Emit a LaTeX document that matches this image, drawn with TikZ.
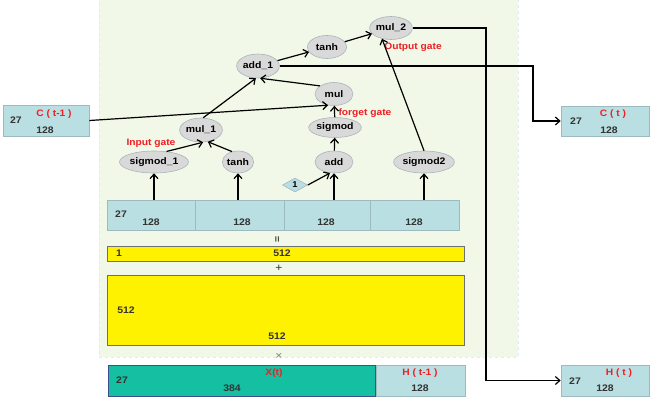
\documentclass[tikz,border=0pt]{standalone}
\usepackage{fontspec}
\setmainfont[FakeStretch=1.1]{Liberation Sans}
\usetikzlibrary{shapes.geometric,arrows.meta}
\definecolor{bgc}{HTML}{F1F8E8}
\definecolor{bgb}{HTML}{DCEEF3}
\definecolor{opf}{HTML}{D9D9D9}
\definecolor{opb}{HTML}{A7B5BC}
\definecolor{cellf}{HTML}{BADFE3}
\definecolor{cellb}{HTML}{9DBBBF}
\definecolor{tealc}{HTML}{14BFA2}
\definecolor{tealb}{HTML}{3A4F8C}
\definecolor{yelb}{HTML}{707070}
\definecolor{txt}{HTML}{333333}
\definecolor{redt}{HTML}{F01E23}
\begin{document}
\begin{tikzpicture}[x=1pt,y=-1pt,
  op/.style={ellipse, draw=opb, fill=opf, line width=0.6pt, inner sep=0pt, font=\fontsize{9.5}{10}\selectfont\bfseries, text=black},
  lbl/.style={font=\fontsize{9.5}{10}\selectfont\bfseries, text=txt, inner sep=0pt},
  redlbl/.style={font=\fontsize{9.3}{10}\selectfont\bfseries, text=redt, inner sep=0pt},
  signlbl/.style={font=\fontsize{11}{11}\selectfont, text=txt, inner sep=0pt},
  arr/.style={line width=1.2pt, -{Straight Barb[length=4.5pt,width=8pt,line width=1.2pt]}},
  cell/.style={draw=cellb, fill=cellf, line width=0.6pt, inner sep=0pt},
  yel/.style={draw=yelb, fill=yellow, line width=0.8pt, inner sep=0pt},
]
\useasboundingbox (0,0) rectangle (652,397);
% background
\node[draw=bgb, fill=bgc, dashed, line width=0.8pt, minimum width=419pt, minimum height=358pt, inner sep=0pt] (bg) at (308.5,178) {};

% boxes
\node[cell, minimum width=86pt, minimum height=31pt] (ct1) at (46,120.5) {};
\node[cell, minimum width=88pt, minimum height=30pt] (c1) at (151,215) {};
\node[cell, minimum width=89pt, minimum height=30pt] (c2) at (239.5,215) {};
\node[cell, minimum width=86pt, minimum height=30pt] (c3) at (327,215) {};
\node[cell, minimum width=89pt, minimum height=30pt] (c4) at (414.5,215) {};
\node[yel, minimum width=357pt, minimum height=15pt] (y1) at (285.5,253.5) {};
\node[yel, minimum width=357pt, minimum height=70pt] (y2) at (285.5,310) {};
\node[draw=tealb, fill=tealc, line width=0.8pt, inner sep=0pt, minimum width=267pt, minimum height=31pt] (xt) at (241.5,380.5) {};
\node[cell, minimum width=89pt, minimum height=31pt] (ht1) at (420.5,380.5) {};
\node[cell, minimum width=88pt, minimum height=30pt] (ct) at (605,121) {};
\node[cell, minimum width=88pt, minimum height=31pt] (ht) at (605,380.5) {};

% box texts
\node[lbl] (a1) at (16,120) {27};
\node[redlbl] (a2) at (54,114) {C ( t-1 )};
\node[lbl] (a3) at (45,130) {128};
\node[lbl] (b1) at (121,214) {27};
\node[lbl] (b2) at (151,222) {128};
\node[lbl] (b3) at (242,222) {128};
\node[lbl] (b4) at (326,222) {128};
\node[lbl] (b5) at (414,222) {128};
\node[lbl, rotate=90] (eq) at (278,239) {=};
\node[lbl] (d1) at (119,253) {1};
\node[lbl] (d2) at (282,253) {512};
\node[signlbl] (plus) at (279,268) {+};
\node[lbl] (e1) at (126,310) {512};
\node[lbl] (e2) at (277,336) {512};
\node[signlbl, text=gray] (times) at (279,356) {×};
\node[lbl] (f1) at (122,380) {27};
\node[redlbl] (f2) at (274,373) {X(t)};
\node[lbl] (f3) at (232,388) {384};
\node[redlbl] (g1) at (420,373) {H ( t-1 )};
\node[lbl] (g2) at (420,388) {128};
\node[lbl] (h1) at (576,121) {27};
\node[redlbl] (h2) at (613,114) {C ( t )};
\node[lbl] (h3) at (609,130) {128};
\node[lbl] (k1) at (575,381) {27};
\node[redlbl] (k2) at (619,373) {H ( t )};
\node[lbl] (k3) at (605,388) {128};

% operation nodes
\node[op, minimum width=38pt, minimum height=24pt] (add1) at (258,66) {add\_1};
\node[op, minimum width=39pt, minimum height=23pt] (tanht) at (327,47) {tanh};
\node[op, minimum width=42pt, minimum height=23pt] (mul2) at (391,28) {mul\_2};
\node[op, minimum width=38pt, minimum height=23pt] (mul) at (334,94) {mul};
\node[op, minimum width=40pt, minimum height=20pt] (sig) at (335,127.5) {sigmod};
\node[op, minimum width=38pt, minimum height=22pt] (add) at (334,162) {add};
\node[op, minimum width=48pt, minimum height=22pt] (sig2) at (424,162) {sigmod2};
\node[op, minimum width=39pt, minimum height=24pt] (mul1) at (201,130) {mul\_1};
\node[op, minimum width=52pt, minimum height=22pt] (sig1) at (154,162) {sigmod\_1};
\node[op, minimum width=31pt, minimum height=22pt] (tanhb) at (238,162) {tanh};
\node[diamond, draw=opb, fill=cellf, line width=0.6pt, inner sep=0pt, minimum width=25pt, minimum height=14pt, font=\fontsize{8.5}{9}\selectfont\bfseries] (dia) at (295,185) {1};

% gate labels
\node[redlbl] (ig) at (151,143) {Input gate};
\node[redlbl] (fg) at (365,113) {forget gate};
\node[redlbl] (og) at (413,47) {Output gate};

% connectors
\draw[arr] (c1.north -| sig1) -- (sig1);
\draw[arr] (c2.north -| tanhb) -- (tanhb);
\draw[arr] (c3.north -| add) -- (add);
\draw[arr] (c4.north -| sig2) -- (sig2);
\draw[arr] (dia.east) -- (add.-110);
\draw[arr] (add) -- (sig);
\draw[arr] (sig) -- (mul);
\draw[arr] (sig1.40) -- (mul1.-80);
\draw[arr] (tanhb.120) -- (mul1.-60);
\draw[arr] (mul1.80) -- (add1.-100);
\draw[arr] (mul.150) -- (add1.-80);
\draw[arr] (ct1.east) -- (mul.-118);
\draw[arr] (add1) -- (tanht);
\draw[arr] (tanht) -- (mul2);
\draw[arr] (sig2.north) -- (mul2.-130);
\coordinate (turn1) at (533,66);
\coordinate (turn2) at (486,28);
\draw[arr] (add1.east) -- (add1.east -| turn1) -- (turn1 |- ct.west) -- (ct.west);
\draw[arr] (mul2.east) -- (mul2.east -| turn2) -- (turn2 |- ht.west) -- (ht.west);
\end{tikzpicture}
\end{document}
